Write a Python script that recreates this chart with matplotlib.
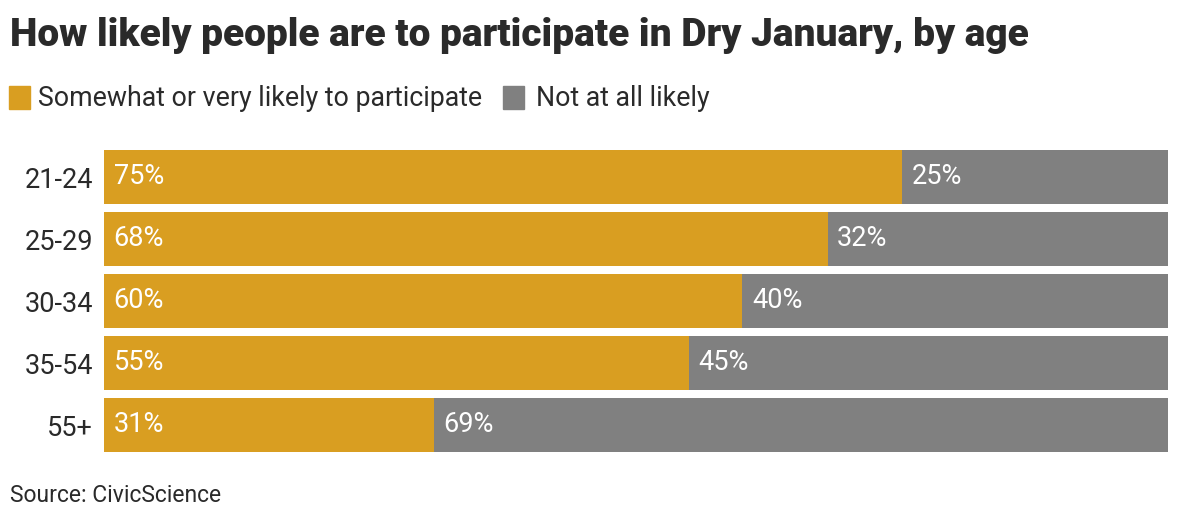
import matplotlib
matplotlib.use('Agg')
from matplotlib import pyplot as plt
import numpy as np

plt.rcParams['font.family'] = ['Roboto', 'DejaVu Sans']

ages = ['21-24', '25-29', '30-34', '35-54', '55+']
likely = [75, 68, 60, 55, 31]
not_likely = [25, 32, 40, 45, 69]

gold = '#D99E21'
grey = '#808080'
ink = '#2a2a2a'

fig = plt.figure(figsize=(11.8, 5.24), dpi=100)
# axes box in pixels: x 104..1168, y 146..456
ax = fig.add_axes([104 / 1180, (524 - 456) / 524, 1064 / 1180, 310 / 524])

y = np.arange(len(ages))
h = 54 / 62
ax.barh(y, likely, height=h, color=gold)
ax.barh(y, not_likely, left=likely, height=h, color=grey)

for i in range(len(ages)):
    ax.text(0.9, y[i], f'{likely[i]}%', color='white', fontsize=19.5, va='center', ha='left')
    ax.text(likely[i] + 0.9, y[i], f'{not_likely[i]}%', color='white', fontsize=19.5, va='center', ha='left')

ax.set_xlim(0, 100)
ax.set_ylim(len(ages) - 0.5, -0.5)
ax.set_yticks(y)
ax.set_yticklabels(ages, fontsize=19.5, color=ink)
ax.tick_params(axis='y', length=0, pad=8)
ax.set_xticks([])
for s in ax.spines.values():
    s.set_visible(False)

fig.text(10 / 1180, 1 - 35 / 524, 'How likely people are to participate in Dry January, by age',
         fontsize=28, fontweight='black', color=ink, va='center', ha='left')

# legend
fig.patches.append(plt.Rectangle((9 / 1180, 1 - 109 / 524), 21 / 1180, 23 / 524,
                                 transform=fig.transFigure, color=gold))
fig.text(38 / 1180, 1 - 98 / 524, 'Somewhat or very likely to participate',
         fontsize=19.3, color=ink, va='center', ha='left')
fig.patches.append(plt.Rectangle((503 / 1180, 1 - 109 / 524), 21 / 1180, 23 / 524,
                                 transform=fig.transFigure, color=grey))
fig.text(536 / 1180, 1 - 98 / 524, 'Not at all likely',
         fontsize=19.3, color=ink, va='center', ha='left')

fig.text(10 / 1180, 1 - 495 / 524, 'Source: CivicScience', fontsize=16.5, color=ink,
         va='center', ha='left')

plt.savefig('out.png', dpi=100)
